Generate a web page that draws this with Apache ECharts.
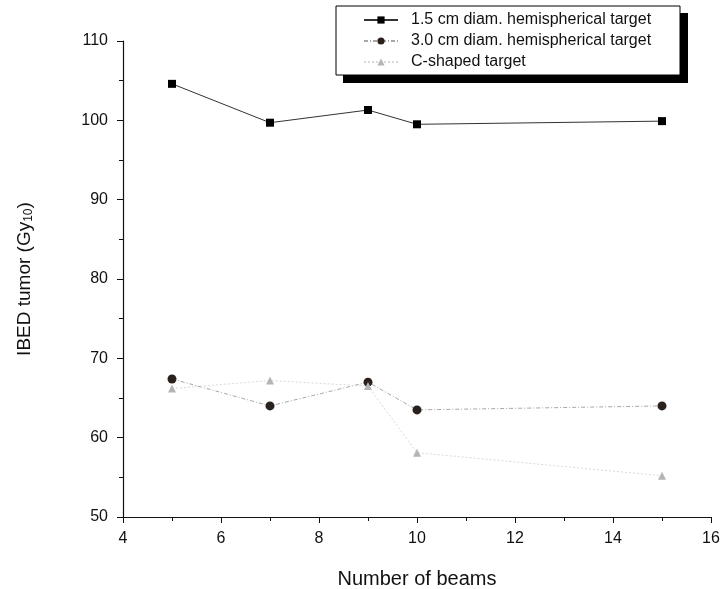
<!DOCTYPE html>
<html>
<head>
<meta charset="utf-8">
<script src="https://cdn.jsdelivr.net/npm/echarts@6/dist/echarts.min.js"></script>
<style>html,body{margin:0;padding:0;background:#fff;}#c{width:720px;height:589px;}</style>
</head>
<body>
<div id="c"></div>
<script>
var beams = [5, 7, 9, 10, 15];
var hemi15 = [104.6, 99.7, 101.3, 99.5, 99.9];
var hemi30 = [67.4, 64.0, 67.0, 63.5, 64.0];
var cShaped = [66.2, 67.2, 66.5, 58.1, 55.2];
var seriesNames = ['1.5 cm diam. hemispherical target', '3.0 cm diam. hemispherical target', 'C-shaped target'];
var xTitle = 'Number of beams';

function pairs(ys) { return beams.map(function (b, i) { return [b, ys[i]]; }); }

var chart = echarts.init(document.getElementById('c'));
var font = 'Liberation Sans, Arial, sans-serif';
chart.setOption({
  animation: false,
  backgroundColor: '#fff',
  grid: { left: 123, right: 9, top: 41, bottom: 72, containLabel: false, outerBoundsMode: 'none' },
  graphic: [
    { type: 'rect', z: 0, shape: { x: 343, y: 13, width: 345, height: 70 }, style: { fill: '#000' } },
    { type: 'rect', z: 1, shape: { x: 336, y: 6, width: 344, height: 69 }, style: { fill: '#fff', stroke: '#000', lineWidth: 1 } }
  ],
  legend: {
    z: 5,
    orient: 'vertical',
    left: 363,
    top: 12,
    padding: 0,
    itemWidth: 34,
    itemHeight: 9,
    itemGap: 5,
    textStyle: { fontFamily: font, fontSize: 16, color: '#111', padding: [0, 0, 0, 8] },
    data: seriesNames
  },
  xAxis: {
    type: 'value', min: 4, max: 16, interval: 2,
    name: xTitle, nameLocation: 'middle', nameGap: 52,
    nameTextStyle: { fontFamily: font, fontSize: 20, color: '#111' },
    axisLine: { lineStyle: { color: '#111', width: 1.2 } },
    axisTick: { length: 6, lineStyle: { color: '#111' } },
    minorTick: { show: true, splitNumber: 2, length: 4, lineStyle: { color: '#111' } },
    axisLabel: { fontFamily: font, fontSize: 16, color: '#111', margin: 14 },
    splitLine: { show: false }
  },
  yAxis: {
    type: 'value', min: 50, max: 110, interval: 10,
    name: '{n|IBED tumor (Gy}{s|10}{n|)}', nameLocation: 'middle', nameGap: 88, nameRotate: 90,
    nameTextStyle: { rich: { n: { fontFamily: font, fontSize: 19, color: '#111' }, s: { fontFamily: font, fontSize: 12, color: '#111', verticalAlign: 'bottom', padding: [9, 0, 0, 0] } } },
    axisLine: { show: true, lineStyle: { color: '#111', width: 1.2 } },
    axisTick: { show: true, length: 6, lineStyle: { color: '#111' } },
    minorTick: { show: true, splitNumber: 2, length: 4, lineStyle: { color: '#111' } },
    axisLabel: { fontFamily: font, fontSize: 16, color: '#111', margin: 15 },
    splitLine: { show: false }
  },
  series: [
    {
      name: seriesNames[0], type: 'line', data: pairs(hemi15),
      symbol: 'rect', symbolSize: 8,
      itemStyle: { color: '#000' },
      lineStyle: { color: '#333', width: 1 }
    },
    {
      name: seriesNames[1], type: 'line', data: pairs(hemi30),
      symbol: 'circle', symbolSize: 9,
      itemStyle: { color: '#2b211c' },
      lineStyle: { color: '#a8a8a8', width: 1, type: [4, 2, 1, 2] }
    },
    {
      name: seriesNames[2], type: 'line', data: pairs(cShaped),
      symbol: 'triangle', symbolSize: 8,
      itemStyle: { color: '#b5b5b5' },
      lineStyle: { color: '#d9d9d9', width: 1, type: [2, 2] }
    }
  ]
});
</script>
</body>
</html>
